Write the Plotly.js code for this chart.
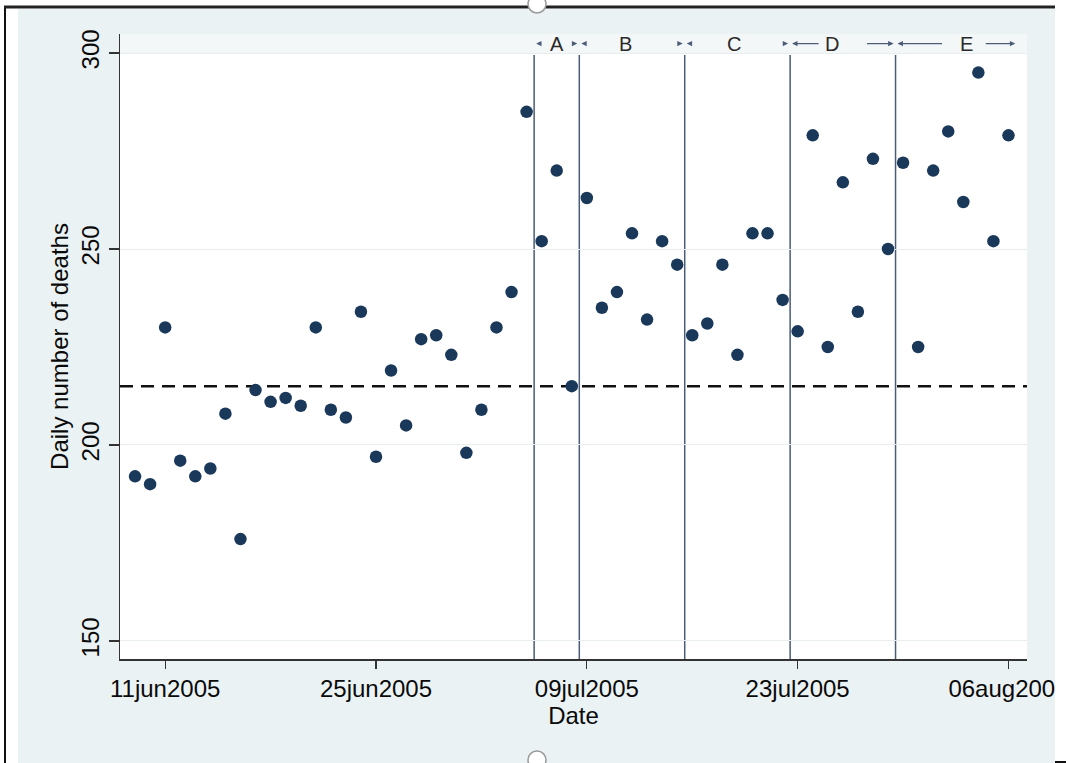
<!DOCTYPE html>
<html><head><meta charset="utf-8">
<script src="https://cdn.plot.ly/plotly-3.0.1.min.js"></script>
<style>html,body{margin:0;padding:0;background:#fff;} #chart{width:1066px;height:763px;}</style>
</head><body><div id="chart"></div>
<script>
// ---------- data ----------
const dates = [
 '2005-06-09','2005-06-10','2005-06-11','2005-06-12','2005-06-13','2005-06-14','2005-06-15','2005-06-16',
 '2005-06-17','2005-06-18','2005-06-19','2005-06-20','2005-06-21','2005-06-22','2005-06-23','2005-06-24',
 '2005-06-25','2005-06-26','2005-06-27','2005-06-28','2005-06-29','2005-06-30',
 '2005-07-01','2005-07-02','2005-07-03','2005-07-04','2005-07-05','2005-07-06','2005-07-07','2005-07-08',
 '2005-07-09','2005-07-10','2005-07-11','2005-07-12','2005-07-13','2005-07-14','2005-07-15','2005-07-16',
 '2005-07-17','2005-07-18','2005-07-19','2005-07-20','2005-07-21','2005-07-22','2005-07-23','2005-07-24',
 '2005-07-25','2005-07-26','2005-07-27','2005-07-28','2005-07-29','2005-07-30','2005-07-31',
 '2005-08-01','2005-08-02','2005-08-03','2005-08-04','2005-08-05','2005-08-06'
];
const deaths = [
 192,190,230,196,192,194,208,176,
 214,211,212,210,230,209,207,234,
 197,219,205,227,228,223,
 198,209,230,239,285,252,270,215,
 263,235,239,254,232,252,246,228,
 231,246,223,254,254,237,229,279,
 225,267,234,273,250,272,225,
 270,280,262,295,252,279
];
const meanDeaths = 215;
const periodLabels = ['A','B','C','D','E'];
const periodStarts = ['2005-07-05 12:00','2005-07-08 12:00','2005-07-15 12:00','2005-07-22 12:00','2005-07-29 12:00'];
const periodEnds   = ['2005-07-08 12:00','2005-07-15 12:00','2005-07-22 12:00','2005-07-29 12:00','2005-08-06 14:00'];
const periodLabelDates = ['2005-07-07 00:00','2005-07-11 14:00','2005-07-18 19:00','2005-07-25 07:00','2005-08-03 05:00'];
const xTickVals = ['2005-06-11','2005-06-25','2005-07-09','2005-07-23','2005-08-06'];
const xTickText = ['11jun2005','25jun2005','09jul2005','23jul2005','06aug2005'];
const yTickVals = [150,200,250,300];

// ---------- style ----------
const W = 1066, H = 763;
const M = {l:120, r:39, t:34, b:104};
const PW = W - M.l - M.r, PH = H - M.t - M.b;
const px2x = p => (p - M.l) / PW;
const py2y = p => (H - M.b - p) / PH;
const xRange = ['2005-06-08 00:00','2005-08-07 05:30'];
const yRange = [145.4, 304.85];
const lineTop = 299.5, labelY = 302.4;
const FONT = 'Liberation Sans, Arial, Helvetica, sans-serif';
const BG = '#eaf2f3';
const leftShaft  = [5,5,5,30,48];
const rightShaft = [5,5,5,30,33];
const arrowColor = '#4a5c78';

const shapes = [
  {type:'rect', xref:'paper', yref:'paper', layer:'below', x0:px2x(18), x1:px2x(1055), y0:py2y(775), y1:py2y(9), fillcolor:BG, line:{width:0}},
  {type:'rect', xref:'paper', yref:'paper', layer:'below', x0:0, x1:1, y0:0, y1:1, fillcolor:'#ffffff', line:{width:0}},
  {type:'rect', xref:'paper', yref:'paper', layer:'below', x0:0, x1:1, y0:py2y(53), y1:1, fillcolor:'#f4f7f8', line:{width:0}},
  {type:'line', xref:'paper', yref:'y', layer:'below', x0:0, x1:1, y0:meanDeaths, y1:meanDeaths, line:{color:'#111', width:2.5, dash:'13px,8px'}}
];
periodStarts.forEach(d => shapes.push({type:'line', xref:'x', yref:'y', layer:'below', x0:d, x1:d, y0:yRange[0], y1:lineTop, line:{color:'#4a5c78', width:1.5}}));
// screenshot frame
shapes.push({type:'rect', xref:'paper', yref:'paper', layer:'above', x0:px2x(1055), x1:px2x(1075), y0:py2y(770), y1:py2y(-5), fillcolor:'#ffffff', line:{width:0}});
shapes.push({type:'line', xref:'paper', yref:'paper', layer:'above', x0:px2x(5), x1:px2x(5), y0:py2y(6), y1:py2y(765), line:{color:'#111', width:2}});
shapes.push({type:'line', xref:'paper', yref:'paper', layer:'above', x0:px2x(4), x1:px2x(1055), y0:py2y(7), y1:py2y(7), line:{color:'#222', width:3}});
shapes.push({type:'line', xref:'paper', yref:'paper', layer:'above', x0:px2x(1055), x1:px2x(1066), y0:py2y(762), y1:py2y(762), line:{color:'#111', width:2}});
shapes.push({type:'circle', xref:'paper', yref:'paper', layer:'above', x0:px2x(528), x1:px2x(546), y0:py2y(13), y1:py2y(-5), fillcolor:'#ffffff', line:{color:'#9a9a9a', width:1.5}});
shapes.push({type:'circle', xref:'paper', yref:'paper', layer:'above', x0:px2x(528), x1:px2x(546), y0:py2y(769), y1:py2y(751), fillcolor:'#ffffff', line:{color:'#9a9a9a', width:1.5}});

const annotations = [];
periodLabels.forEach((lab, i) => {
  annotations.push({x:periodLabelDates[i], y:labelY, xref:'x', yref:'y', text:lab, showarrow:false,
    font:{family:FONT, size:20, color:'#2a2a2a'}});
  annotations.push({x:periodStarts[i], y:labelY, xref:'x', yref:'y', text:'', showarrow:true,
    ax:leftShaft[i], ay:0, arrowhead:2, arrowsize:0.9, arrowwidth:1.2, arrowcolor:arrowColor, standoff:2});
  annotations.push({x:periodEnds[i], y:labelY, xref:'x', yref:'y', text:'', showarrow:true,
    ax:-rightShaft[i], ay:0, arrowhead:2, arrowsize:0.9, arrowwidth:1.2, arrowcolor:arrowColor, standoff:2});
});

const trace = {
  type:'scatter', mode:'markers', x:dates, y:deaths,
  marker:{size:12.5, color:'#1a3859', line:{width:0}},
  hoverinfo:'x+y', cliponaxis:false
};

const layout = {
  width:W, height:H,
  margin:{l:M.l, r:M.r, t:M.t, b:M.b, pad:0},
  paper_bgcolor:'#ffffff', plot_bgcolor:'rgba(0,0,0,0)',
  showlegend:false,
  font:{family:FONT, color:'#111'},
  xaxis:{type:'date', range:xRange, tickvals:xTickVals, ticktext:xTickText,
    ticks:'outside', ticklen:8, tickwidth:1.3, tickcolor:'#333', ticklabeloverflow:'allow',
    showline:true, linecolor:'#333', linewidth:1.5, showgrid:false, zeroline:false,
    tickfont:{family:FONT, size:24, color:'#0a0a0a'},
    title:{text:'Date', font:{family:FONT, size:24, color:'#0a0a0a'}, standoff:6}},
  yaxis:{range:yRange, tickvals:yTickVals, ticks:'outside', ticklen:10, tickwidth:1.3, tickcolor:'#333',
    tickangle:-90, showline:true, linecolor:'#333', linewidth:1.5,
    showgrid:true, gridcolor:'#e8edef', gridwidth:1, zeroline:false,
    tickfont:{family:FONT, size:24, color:'#0a0a0a'},
    title:{text:'Daily number of deaths', font:{family:FONT, size:24, color:'#0a0a0a'}, standoff:1}},
  shapes:shapes, annotations:annotations
};

Plotly.newPlot('chart', [trace], layout, {displayModeBar:false, staticPlot:true});
</script>
</body></html>
